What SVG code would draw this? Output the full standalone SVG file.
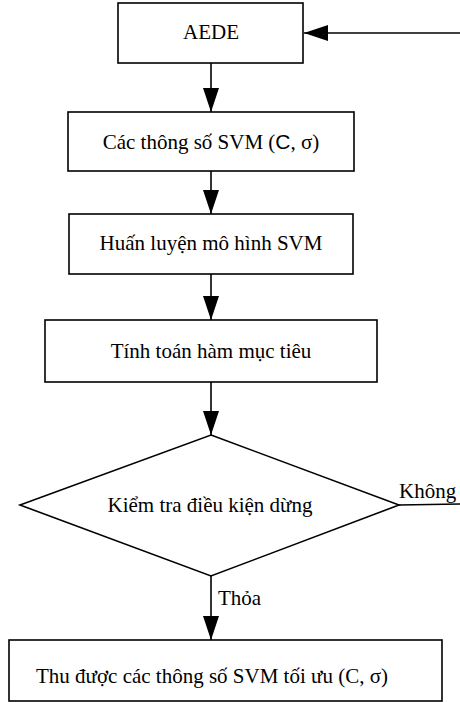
<svg xmlns="http://www.w3.org/2000/svg" width="460" height="702" viewBox="0 0 460 702">
<defs>
<marker id="ah" markerWidth="24" markerHeight="16" refX="24" refY="8" orient="auto" markerUnits="userSpaceOnUse">
<path d="M0,0 L24,8 L0,16 Z" fill="#000"/>
</marker>
<style>
.box{fill:#fff;stroke:#000;stroke-width:1.6}
.t{font-family:"Liberation Serif","Times New Roman",serif;font-size:21px;fill:#000;text-anchor:middle}
.lb{font-family:"Liberation Serif","Times New Roman",serif;font-size:21px;fill:#000}
.c{fill:none;stroke:#000;stroke-width:1.6}
</style>
</defs>
<g id="connectors">
<line class="c" x1="460" y1="33" x2="304" y2="33" marker-end="url(#ah)"/>
<line class="c" x1="211" y1="63" x2="211" y2="112" marker-end="url(#ah)"/>
<line class="c" x1="211" y1="171" x2="211" y2="214" marker-end="url(#ah)"/>
<line class="c" x1="211" y1="274" x2="211" y2="320" marker-end="url(#ah)"/>
<line class="c" x1="211" y1="382" x2="211" y2="435" marker-end="url(#ah)"/>
<line class="c" x1="211" y1="576" x2="211" y2="640" marker-end="url(#ah)"/>
<line class="c" x1="399" y1="505" x2="460" y2="504"/>
<text class="lb" x="399" y="498">Không</text>
<text class="lb" x="218" y="605">Thỏa</text>
</g>
<g id="aede">
<rect class="box" x="118" y="3" width="185" height="60"/>
<text class="t" x="211" y="39">AEDE</text>
</g>
<g id="params">
<rect class="box" x="68" y="112" width="286" height="59"/>
<text class="t" x="211" y="149">Các thông số SVM (<tspan font-family="Liberation Sans, Arial, sans-serif">C</tspan>,  σ)</text>
</g>
<g id="train">
<rect class="box" x="69" y="214" width="284" height="60"/>
<text class="t" x="211" y="250">Huấn luyện mô hình SVM</text>
</g>
<g id="objective">
<rect class="box" x="45" y="320" width="332" height="62"/>
<text class="t" x="211" y="358">Tính toán hàm mục tiêu</text>
</g>
<g id="check">
<polygon class="box" points="211,435 399,505 211,576 20,505"/>
<text class="t" x="210" y="512">Kiểm tra điều kiện dừng</text>
</g>
<g id="result">
<rect class="box" x="9" y="640" width="433" height="61"/>
<text class="t" x="212" y="683">Thu được các thông số SVM tối ưu (C, σ)</text>
</g>
</svg>
